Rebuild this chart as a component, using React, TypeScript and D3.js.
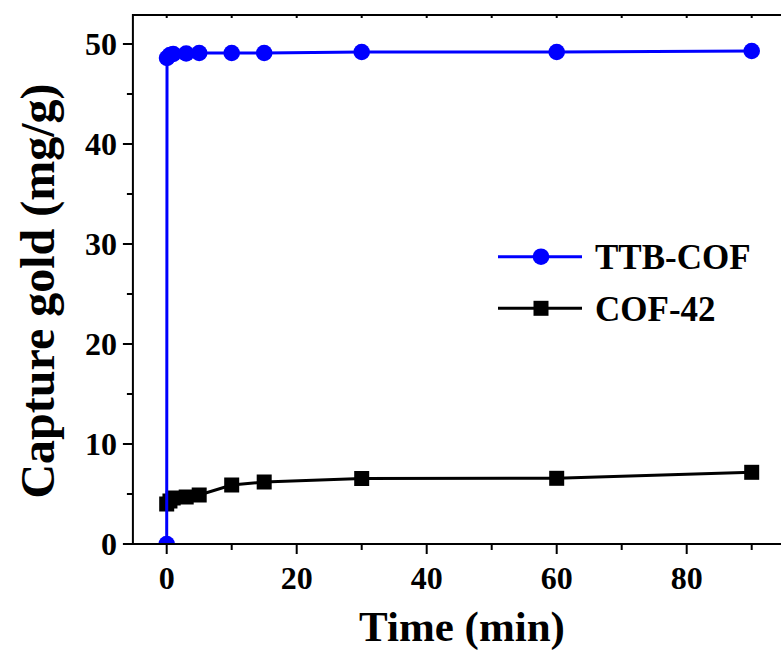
import React from "react";
import * as d3 from "d3";

const ttbTime = [0, 0.05, 0.5, 1, 3, 5, 10, 15, 30, 60, 90];
const ttbValue = [0, 48.6, 48.9, 49.0, 49.05, 49.1, 49.1, 49.1, 49.2, 49.2, 49.3];
const cofTime = [0, 0.5, 1, 3, 5, 10, 15, 30, 60, 90];
const cofValue = [4.0, 4.3, 4.6, 4.7, 4.9, 5.9, 6.2, 6.55, 6.57, 7.17];
const xTicks = [0, 20, 40, 60, 80];
const yTicks = [0, 10, 20, 30, 40, 50];
const seriesNames = ["TTB-COF", "COF-42"];

const W = 781, H = 650;
const FONT = "'Liberation Serif', 'Times New Roman', serif";

export default function App() {
  const x = d3.scaleLinear().domain([-5.2, 95]).range([132.9, 784.2]);
  const y = d3.scaleLinear().domain([0, 52.9]).range([544, 15]);
  const [x0, x1] = x.range();
  const [yb, yt] = y.range();

  const line = d3.line<[number, number]>().x(d => x(d[0])).y(d => y(d[1]));
  const ttb: [number, number][] = ttbTime.map((t, i) => [t, ttbValue[i]]);
  const cof: [number, number][] = cofTime.map((t, i) => [t, cofValue[i]]);

  const xMinor = d3.range(0, 95, 10);
  const yMinor = d3.range(0, 53, 5);

  return (
    <svg width={W} height={H} style={{ position: "absolute", left: 0, top: 0, background: "#fff" }} fontFamily={FONT} fontWeight="bold">
      <defs>
        <clipPath id="plot">
          <rect x={x0} y={yt} width={x1 - x0} height={yb - yt} />
        </clipPath>
      </defs>
      <g clipPath="url(#plot)">
        <path d={line(cof) || ""} fill="none" stroke="#000" strokeWidth={3} />
        {cof.map((d, i) => (
          <rect key={i} x={x(d[0]) - 7.5} y={y(d[1]) - 7.5} width={15} height={15} fill="#000" />
        ))}
        <path d={line(ttb) || ""} fill="none" stroke="#0000ff" strokeWidth={3} />
        {ttb.map((d, i) => (
          <circle key={i} cx={x(d[0])} cy={y(d[1])} r={8.3} fill="#0000ff" />
        ))}
      </g>
      {/* frame */}
      <rect x={x0} y={yt} width={x1 - x0} height={yb - yt} fill="none" stroke="#000" strokeWidth={2} />
      {/* bottom ticks */}
      {xMinor.map(v => (
        <line key={"bx" + v} x1={x(v)} x2={x(v)} y1={yb} y2={yb + (v % 20 === 0 ? 10 : 6)} stroke="#000" strokeWidth={2} />
      ))}
      {/* top ticks */}
      {xMinor.map(v => (
        <line key={"tx" + v} x1={x(v)} x2={x(v)} y1={yt} y2={yt + 3} stroke="#000" strokeWidth={2} />
      ))}
      {/* left ticks */}
      {yMinor.map(v => (
        <line key={"ly" + v} x1={x0} x2={x0 - (v % 10 === 0 ? 10 : 6)} y1={y(v)} y2={y(v)} stroke="#000" strokeWidth={2} />
      ))}
      {xTicks.map(v => (
        <text key={"xl" + v} x={x(v)} y={589} textAnchor="middle" fontSize={32}>{v}</text>
      ))}
      {yTicks.map(v => (
        <text key={"yl" + v} x={117} y={y(v) + 11} textAnchor="end" fontSize={32}>{v}</text>
      ))}
      <text x={462} y={641} textAnchor="middle" fontSize={43}>Time (min)</text>
      <text transform={`translate(54,${291}) rotate(-90)`} textAnchor="middle" fontSize={48}>Capture gold (mg/g)</text>
      {/* legend */}
      <g>
        <line x1={498} x2={582} y1={256.7} y2={256.7} stroke="#0000ff" strokeWidth={3} />
        <circle cx={541} cy={256.7} r={8.3} fill="#0000ff" />
        <text x={595} y={269} fontSize={35}>{seriesNames[0]}</text>
        <line x1={498} x2={582} y1={308.3} y2={308.3} stroke="#000" strokeWidth={3} />
        <rect x={541 - 7.5} y={308.3 - 7.5} width={15} height={15} fill="#000" />
        <text x={595} y={320.7} fontSize={35}>{seriesNames[1]}</text>
      </g>
    </svg>
  );
}
